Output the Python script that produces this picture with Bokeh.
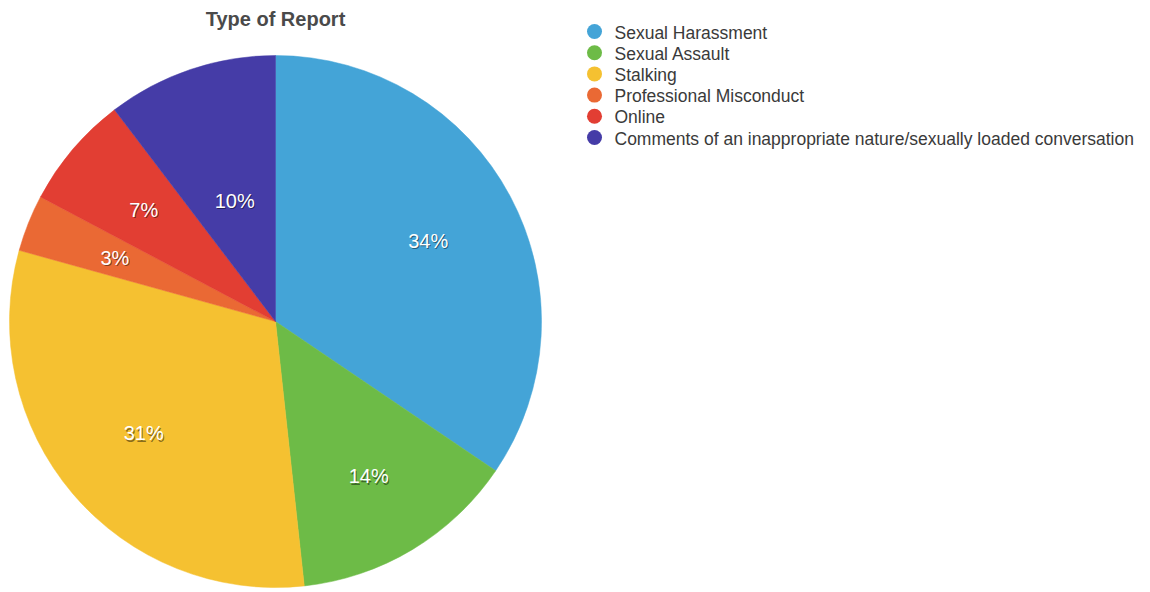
import numpy as np
from bokeh.plotting import figure
from bokeh.models import Range1d, Label, ColumnDataSource
from bokeh.core.properties import value
from bokeh.embed import file_html
from bokeh.resources import INLINE

# ---- data ----
categories = [
    "Sexual Harassment",
    "Sexual Assault",
    "Stalking",
    "Professional Misconduct",
    "Online",
    "Comments of an inappropriate nature/sexually loaded conversation",
]
counts = [10, 4, 9, 1, 2, 3]
colors = ["#44A4D7", "#6DBB47", "#F5C131", "#EA6934", "#E23E33", "#453CA7"]
title_text = "Type of Report"

# ---- layout / style ----
W, H = 1150, 592
CX, CY, R = 275, H - 321, 266
label_dist = [0.65, 0.68, 0.65, 0.65, 0.65, 0.48]
FONT = "Liberation Sans"
LEG_X, LEG_Y0, LEG_ROW = 594, 31, 21.2

vals = np.array(counts, dtype=float)
frac = vals / vals.sum()
cum = np.cumsum(frac)
start = np.pi / 2 - 2 * np.pi * (cum - frac)
end = np.pi / 2 - 2 * np.pi * cum
mid = (start + end) / 2
dist = np.array(label_dist) * R
pct = [f"{round(f * 100):.0f}%" for f in frac]
idx = np.arange(len(categories))

src = ColumnDataSource(dict(
    cat=categories, start=start, end=end, color=colors,
    lx=CX + dist * np.cos(mid), ly=CY + dist * np.sin(mid), pct=pct,
    gx=np.full(len(categories), LEG_X), gy=H - (LEG_Y0 + LEG_ROW * idx),
))

p = figure(width=W, height=H, x_range=Range1d(0, W), y_range=Range1d(0, H),
           output_backend="svg", toolbar_location=None, min_border=0,
           x_axis_location=None, y_axis_location=None)
p.grid.visible = False
p.outline_line_color = None
p.background_fill_color = "white"

p.wedge(x=CX, y=CY, radius=R, start_angle="start", end_angle="end",
        direction="clock", fill_color="color", line_color="color",
        line_width=0.5, source=src)

# label shadow then label
p.text(x="lx", y="ly", text="pct", source=src, x_offset=1, y_offset=1.5,
       text_color="black", text_alpha=0.45, text_align="center",
       text_baseline="middle", text_font=value(FONT), text_font_size="20px")
p.text(x="lx", y="ly", text="pct", source=src,
       text_color="white", text_align="center",
       text_baseline="middle", text_font=value(FONT), text_font_size="20px")

p.add_layout(Label(x=CX, y=H - 18, text=title_text, text_align="center",
                   text_baseline="middle", text_font=FONT,
                   text_font_size="20px", text_font_style="bold",
                   text_color="#4a4a4a"))

# legend (markers + labels)
p.scatter(x="gx", y="gy", size=15, marker="circle", fill_color="color",
          line_color=None, source=src)
p.text(x="gx", y="gy", text="cat", source=src, x_offset=20, y_offset=1,
       text_color="#3a3a3a", text_align="left", text_baseline="middle",
       text_font=value(FONT), text_font_size="17.5px")

open("out.html", "w").write(file_html(p, INLINE))
